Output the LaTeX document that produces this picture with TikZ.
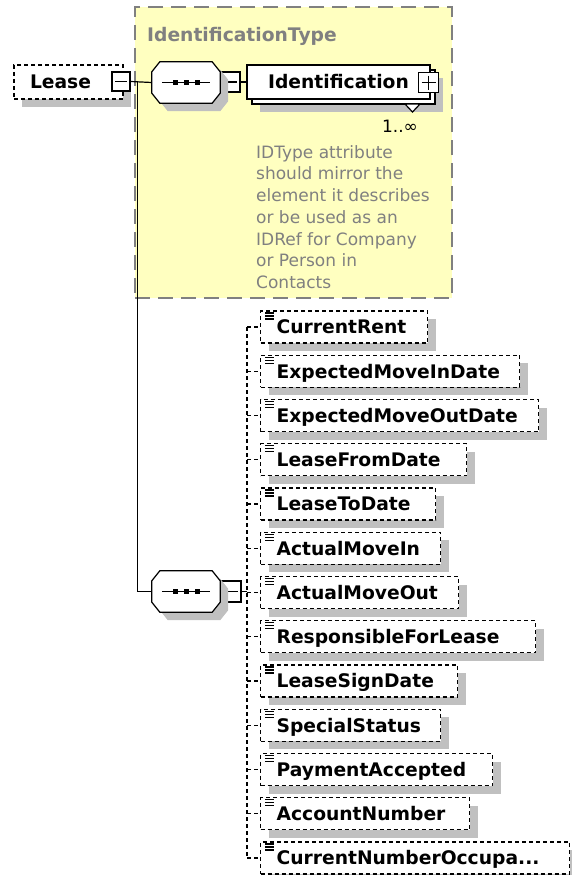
\documentclass[tikz,border=0pt]{standalone}
\usepackage{fontspec}
\setmainfont{DejaVu Sans}
\usetikzlibrary{shadows}

\definecolor{notefill}{HTML}{FFFFC0}
\definecolor{shadowgray}{HTML}{C0C0C0}
\definecolor{notegray}{HTML}{808080}

\newcommand\elemfont{\fontsize{18.7}{22}\selectfont\bfseries}
\newcommand\notefont{\fontsize{17}{21.7}\selectfont}
\newcommand\occlabel{CurrentNumberOccupa...}

% octagon of a sequence compositor, cut from the node's rectangle
\newcommand\octpath[1]{([xshift=8pt]#1.north west) -- ([xshift=-8pt]#1.north east)
  -- ([yshift=-10pt]#1.north east) -- ([yshift=10pt]#1.south east)
  -- ([xshift=-8pt]#1.south east) -- ([xshift=8pt]#1.south west)
  -- ([yshift=10pt]#1.south west) -- ([yshift=-10pt]#1.north west) -- cycle}
\newcommand\seqsym[1]{%
  \begin{scope}[transform canvas={shift={(8pt,-8pt)}}]
    \fill[shadowgray] \octpath{#1};
  \end{scope}
  \filldraw[fill=white, line width=1.2pt] \octpath{#1};
  \draw[line width=1.2pt] ([xshift=10pt]#1.west) -- ([xshift=-10pt]#1.east);
  \foreach \dx in {-11,0,11}
    \fill ([xshift=\dx pt-2.5pt, yshift=-2.5pt]#1.center) rectangle ++(5pt,5pt);
}

\tikzset{
  shade box/.style={drop shadow={shadow xshift=8pt, shadow yshift=-8pt, opacity=1, fill=shadowgray, draw=none}},
  elembox/.style={draw, line width=1.2pt, dash pattern=on 4pt off 3pt, fill=white, anchor=west,
    minimum height=32pt, inner xsep=16pt, inner ysep=0pt, text height=13.6pt, text depth=0pt,
    align=left, font=\elemfont, shade box},
  leasebox/.style={elembox, anchor=center, minimum width=109pt, minimum height=34pt, text width=77pt},
  identbox/.style={draw, line width=1.4pt, fill=white, minimum width=183pt, minimum height=34pt,
    inner sep=0pt, text height=13.6pt, text depth=0pt, font=\elemfont},
  seqbox/.style={minimum width=68pt, minimum height=41pt, inner sep=0pt},
  minusbox/.style={draw, line width=1.2pt, fill=white, minimum width=18pt, minimum height=19pt, inner sep=0pt,
    path picture={\draw[line width=1.2pt] ([xshift=3pt]path picture bounding box.west)
      -- ([xshift=-3pt]path picture bounding box.east);}},
  plusbox/.style={minusbox, path picture={\draw[line width=1.2pt]
      ([xshift=3pt]path picture bounding box.west) -- ([xshift=-3pt]path picture bounding box.east)
      ([yshift=-3pt]path picture bounding box.north) -- ([yshift=3pt]path picture bounding box.south);}},
  notebox/.style={draw=notegray, fill=notefill, line width=1.6pt, dash pattern=on 15pt off 8pt,
    minimum width=317pt, minimum height=291pt, inner sep=0pt},
  link/.style={line width=1.2pt},
  dashlink/.style={line width=1.2pt, dash pattern=on 4pt off 3pt}
}

\begin{document}
\begin{tikzpicture}[x=1pt, y=-1pt, line join=miter]
  \useasboundingbox (0,0) rectangle (571,875);

  % complex type box
  \node[notebox] (idType) at (293.5,152.5) {};
  \node[anchor=west, inner sep=0pt, font=\elemfont, text=notegray, text height=13.6pt, text depth=0pt] (idTitle) at (147,35) {IdentificationType};
  \node[anchor=north west, inner sep=0pt, align=left, font=\notefont, text=notegray] (idNote) at (256,145.1)
    {IDType attribute\\should mirror the\\element it describes\\or be used as an\\IDRef for Company\\or Person in\\Contacts};

  % root element
  \node[leasebox] (lease) at (68.5,82) {Lease};
  \node[minusbox] (leaseMinus) at (121,81.5) {};

  % sequences
  \node[seqbox] (seqA) at (186,82.5) {};
  \node[seqbox] (seqB) at (186,591.5) {};
  \node[minusbox, minimum width=20pt, minimum height=20pt] (seqAMinus) at (230,82) {};
  \node[minusbox, minimum width=20pt, minimum height=21pt] (seqBMinus) at (231,591.5) {};

  \coordinate (leaseJoint) at ([xshift=7pt]leaseMinus.east);
  \draw[link] (leaseMinus.east) -- (seqA.west);
  \draw[link] (leaseJoint) |- (seqB.west);
  \draw[link] (seqA.east) -- (seqAMinus.west);
  \seqsym{seqA}
  \seqsym{seqB}

  % repeated Identification element
  \node[identbox, shade box] (identBack) at (343.5,87) {};
  \node[identbox] (ident) at (338.5,82) {Identification};
  \node[plusbox, minimum width=20pt, minimum height=20pt] (identPlus) at (428.5,82.5) {};
  \draw[line width=1.2pt, fill=white] (405,104) -- (420,104) -- (412.5,112) -- cycle;
  \node[font=\notefont, inner sep=0pt] (card) at (400,126) {1..∞};
  \draw[link] (seqAMinus.east) -- (ident.west);

  % children of the second sequence
  \coordinate (spineTop) at (247,327);
  \coordinate (spineBot) at (247,858);
  \draw[dashlink] (spineTop) -- (spineBot);
  \draw[link] (seqBMinus.east) -- (spineTop |- seqBMinus.east);
  \foreach \nm/\lbl/\w [count=\i, evaluate=\i as \yy using 327+(\i-1)*44.25,
      evaluate=\w as \tw using \w-32] in {
    curRent/CurrentRent/167, expIn/ExpectedMoveInDate/259, expOut/ExpectedMoveOutDate/278,
    leaseFrom/LeaseFromDate/206, leaseTo/LeaseToDate/175, moveIn/ActualMoveIn/180,
    moveOut/ActualMoveOut/198, respLease/ResponsibleForLease/275, signDate/LeaseSignDate/197,
    specStatus/SpecialStatus/180, payAcc/PaymentAccepted/232, acctNum/AccountNumber/209,
    curOcc/\occlabel/309} {
    \node[elembox, text width=\tw pt] (\nm) at (260,\yy) {\lbl};
    \draw[dashlink] (spineTop |- \nm.west) -- (\nm.west);
    \foreach \k in {0,1,2}
      \draw[line width=1.2pt] ([xshift=5pt, yshift=-2.5pt-3*\k pt]\nm.north west) -- ++(9pt,0pt);
  }
\end{tikzpicture}
\end{document}
